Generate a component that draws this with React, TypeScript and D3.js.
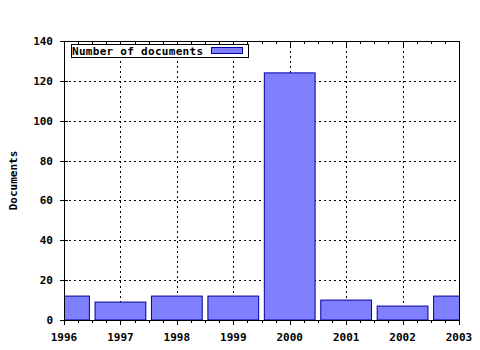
import React from "react";
import * as d3 from "d3";

const years = [1996, 1997, 1998, 1999, 2000, 2001, 2002, 2003];
const documents = [12, 9, 12, 12, 124, 10, 7, 12];
const yTicks = [0, 20, 40, 60, 80, 100, 120, 140];
const seriesName = "Number of documents";
const yTitle = "Documents";

const W = 480, H = 350;
const L = 64, R = 459, T = 41, B = 320;
const FONT = "'DejaVu Sans Mono', 'Liberation Mono', monospace";

export default function App() {
  const x = d3.scaleLinear().domain([1996, 2003]).range([L, R]);
  const y = d3.scaleLinear().domain([0, 140]).range([B, T]);
  const barW = x(1996.9) - x(1996);
  const minor = d3.range(1996, 2003.001, 0.25);

  return (
    <svg width={W} height={H} style={{ position: "absolute", left: 0, top: 0 }}>
      <rect width={W} height={H} fill="#fff" />
      <defs>
        <clipPath id="plot">
          <rect x={L} y={T} width={R - L} height={B - T} />
        </clipPath>
      </defs>
      {/* grid */}
      <g stroke="#000" strokeWidth={1} strokeDasharray="2,3" shapeRendering="crispEdges">
        {yTicks.slice(1, -1).map((t) => (
          <line key={"gy" + t} x1={L} x2={R} y1={Math.round(y(t)) + 0.5} y2={Math.round(y(t)) + 0.5} />
        ))}
        {years.slice(1, -1).map((t) => (
          <line key={"gx" + t} x1={Math.round(x(t)) + 0.5} x2={Math.round(x(t)) + 0.5} y1={T} y2={B} />
        ))}
      </g>
      {/* bars */}
      <g clipPath="url(#plot)">
        {years.map((yr, i) => (
          <rect
            key={yr}
            x={x(yr) - barW / 2}
            y={y(documents[i])}
            width={barW}
            height={B - y(documents[i])}
            fill="#8080ff"
            stroke="#0000a0"
            strokeWidth={1}
          />
        ))}
      </g>
      {/* frame */}
      <rect x={L + 0.5} y={T + 0.5} width={R - L} height={B - T} fill="none" stroke="#000" strokeWidth={1} shapeRendering="crispEdges" />
      {/* ticks */}
      <g stroke="#000" strokeWidth={1} shapeRendering="crispEdges">
        {minor.map((t) => {
          const isMajor = Math.abs(t - Math.round(t)) < 1e-6;
          const xx = Math.round(x(t)) + 0.5;
          const len = isMajor ? 5 : 3;
          return (
            <g key={"mt" + t}>
              <line x1={xx} x2={xx} y1={B} y2={B + len} />
              <line x1={xx} x2={xx} y1={T} y2={T + len} />
            </g>
          );
        })}
        {yTicks.map((t) => (
          <line key={"yt" + t} x1={L - 4} x2={L + 4} y1={Math.round(y(t)) + 0.5} y2={Math.round(y(t)) + 0.5} />
        ))}
      </g>
      {/* tick labels */}
      <g fontFamily={FONT} fontWeight="bold" fontSize={11} fill="#000">
        {yTicks.map((t) => (
          <text key={"yl" + t} x={53} y={y(t) + 4} textAnchor="end">{t}</text>
        ))}
        {years.map((t) => (
          <text key={"xl" + t} x={x(t)} y={341} textAnchor="middle">{t}</text>
        ))}
        <text transform={`translate(17,${(T + B) / 2}) rotate(-90)`} textAnchor="middle">{yTitle}</text>
      </g>
      {/* legend */}
      <rect x={71.5} y={44.5} width={177} height={13} fill="#fff" stroke="#000" strokeWidth={1} shapeRendering="crispEdges" />
      <text x={72} y={55} fontFamily={FONT} fontWeight="bold" fontSize={11} textLength={131} fill="#000">{seriesName}</text>
      <rect x={211.5} y={47.5} width={31} height={6} fill="#8080ff" stroke="#0000a0" strokeWidth={1} />
    </svg>
  );
}
